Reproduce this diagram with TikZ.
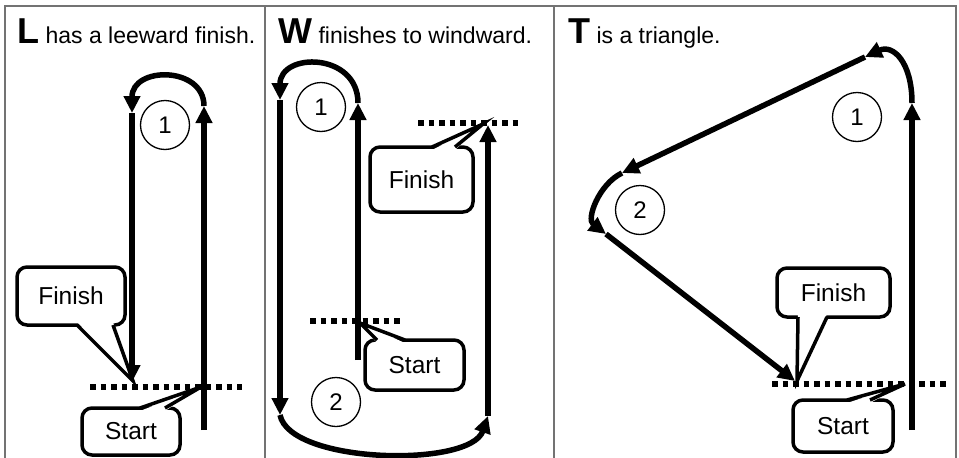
\documentclass[tikz,border=0pt]{standalone}
\usepackage{fontspec}
\setmainfont{Liberation Sans}
\usetikzlibrary{arrows.meta}

\tikzset{
  course/.style={line width=5.5pt, -{Triangle[length=17pt,width=16pt]}},
  startline/.style={line width=5.5pt, dash pattern=on 5.5pt off 5pt},
  buoy/.style={circle, draw, line width=1.3pt, minimum size=49pt, inner sep=0pt, font=\fontsize{24}{28}\selectfont},
  bubble/.style={draw, line width=3.5pt, rounded corners=10pt, outer sep=0pt, fill=white, font=\fontsize{24.5}{28}\selectfont},
  pointer/.style={line width=3.5pt},
  panel/.style={draw=black!55, line width=1.2pt},
  title/.style={anchor=base west, inner sep=0pt, font=\fontsize{23}{27}\selectfont},
}

\begin{document}
\begin{tikzpicture}[x=1pt, y=-1pt]
            \useasboundingbox (0,0) rectangle (959,458);

            % Panel frames
            \draw[panel] (5,458) -- (5,6) -- (956,6) -- (956,458);
            \draw[panel] (265,6) -- (265,458);
            \draw[panel] (554,6) -- (554,458);

            % Titles
            \node[title] (titleL) at (17,43) {{\fontsize{36}{36}\selectfont\bfseries L} has a leeward finish.};
            \node[title] (titleW) at (278,43) {{\fontsize{36}{36}\selectfont\bfseries W} finishes to windward.};
            \node[title] (titleT) at (568,43) {{\fontsize{36}{36}\selectfont\bfseries T} is a triangle.};

            % L: up to mark 1, round it, back down to the line
            \draw[course] (204,430) -- (204,106);
            \draw[course] (204,106) .. controls (204,66) and (132,66) .. (132,113);
            \draw[course] (132,113) -- (132,382);
            \draw[startline] (90,387) -- (242,387);
            \node[buoy] (buoyLa) at (165,125) {1};

            % Label for L finish
            \node[bubble, minimum width=108pt, minimum height=58pt] (finL) at (71,296) {Finish};
            \coordinate (finLtip) at (133,381);
            \fill[white] ([xshift=60pt,yshift=3pt]finL.south west) -- (finLtip) -- ([xshift=96pt,yshift=3pt]finL.south west) -- cycle;
            \draw[pointer] ([xshift=60pt]finL.south west) -- (finLtip) -- ([xshift=96pt]finL.south west);

            % Label for L start
            \node[bubble, minimum width=98pt, minimum height=47pt] (staL) at (131,431.5) {Start};
            \coordinate (staLtip) at (201,387);
            \fill[white] ([xshift=58pt,yshift=-3pt]staL.north west) -- (staLtip) -- ([xshift=83pt,yshift=-3pt]staL.north west) -- cycle;
            \draw[pointer] ([xshift=58pt]staL.north west) -- (staLtip) -- ([xshift=83pt]staL.north west);

            % W: up to mark 1, down to mark 2, up to the finish
            \draw[course] (358,360) -- (358,103);
            \draw[course] (358,103) .. controls (358,52) and (280,52) .. (280,100);
            \draw[course] (280,100) -- (280,415);
            \draw[course] (280,415) .. controls (290,464) and (470,468) .. (488,416);
            \draw[course] (488,416) -- (488,125);
            \draw[startline] (418,123) -- (522,123);
            \draw[startline] (310,321) -- (402,321);
            \node[buoy] (buoyWa) at (321,107) {1};
            \node[buoy] (buoyWb) at (336,402) {2};

            % Label for W finish
            \node[bubble, minimum width=103pt, minimum height=65pt] (finW) at (421.5,179.5) {Finish};
            \coordinate (finWtip) at (483,124);
            \fill[white] ([xshift=62pt,yshift=-3pt]finW.north west) -- (finWtip) -- ([xshift=85pt,yshift=-3pt]finW.north west) -- cycle;
            \draw[pointer] ([xshift=62pt]finW.north west) -- (finWtip) -- ([xshift=85pt]finW.north west);

            % Label for W start
            \node[bubble, minimum width=99pt, minimum height=50pt] (staW) at (414.5,365) {Start};
            \coordinate (staWtip) at (360,323);
            \fill[white] ([xshift=12pt,yshift=-3pt]staW.north west) -- (staWtip) -- ([xshift=40pt,yshift=-3pt]staW.north west) -- cycle;
            \draw[pointer] ([xshift=12pt]staW.north west) -- (staWtip) -- ([xshift=40pt]staW.north west);

            % T: up to mark 1, reach to mark 2, reach to the finish
            \draw[course] (912,430) -- (912,103);
            \draw[course] (912,103) .. controls (912,62) and (893,44) .. (865,57);
            \draw[course] (865,57) -- (622,173);
            \draw[course] (622,173) .. controls (599,184) and (586,219) .. (606,234);
            \draw[course] (606,234) -- (795,381);
            \draw[startline] (772,384) -- (947,384);
            \node[buoy] (buoyTa) at (857,117) {1};
            \node[buoy] (buoyTb) at (640,210) {2};

            % Label for T finish
            \node[bubble, minimum width=113pt, minimum height=49pt] (finT) at (833.5,292.5) {Finish};
            \coordinate (finTtip) at (797,381);
            \fill[white] ([xshift=21pt,yshift=3pt]finT.south west) -- (finTtip) -- ([xshift=50pt,yshift=3pt]finT.south west) -- cycle;
            \draw[pointer] ([xshift=21pt]finT.south west) -- (finTtip) -- ([xshift=50pt]finT.south west);

            % Label for T start
            \node[bubble, minimum width=100pt, minimum height=52pt] (staT) at (843,426) {Start};
            \coordinate (staTtip) at (905,384);
            \fill[white] ([xshift=54pt,yshift=-3pt]staT.north west) -- (staTtip) -- ([xshift=77pt,yshift=-3pt]staT.north west) -- cycle;
            \draw[pointer] ([xshift=54pt]staT.north west) -- (staTtip) -- ([xshift=77pt]staT.north west);

        \end{tikzpicture}
\end{document}
